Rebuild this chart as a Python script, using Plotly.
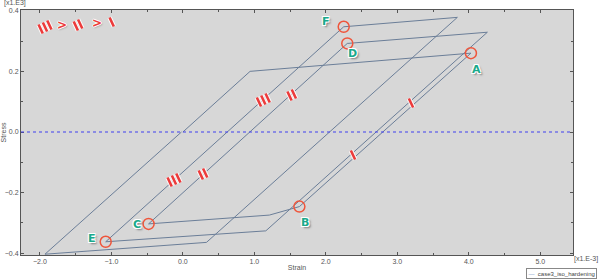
import math
import plotly.graph_objects as go

# ---- data (strain in 1e-3, stress in 1e3) ----
strain = [0.0, 0.94, 4.03, 1.63, 1.21, -0.48, 2.30, 4.26, 1.16, -1.08, 2.25, 3.84, 0.33, -1.93, -0.02]
stress = [0.0, 0.200, 0.260, -0.246, -0.274, -0.303, 0.292, 0.329, -0.326, -0.362, 0.347, 0.378, -0.364, -0.403, 0.0]
point_labels = ["A", "B", "C", "D", "E", "F"]
point_index = [2, 3, 5, 6, 9, 10]
label_offsets = [(6, 16), (6, 16), (-12, 1), (5, 10), (-14, -3), (-18, -5)]
series_name = "case3_iso_hardening"
x_ticks = [-2.0, -1.0, 0.0, 1.0, 2.0, 3.0, 4.0, 5.0]
y_ticks = [-0.4, -0.2, 0.0, 0.2, 0.4]

CURVE = "#6b7e98"
RED = "#ec3b3b"
TEAL = "#1aa98b"

fig = go.Figure()
fig.add_trace(go.Scatter(x=strain, y=stress, mode="lines",
                         line=dict(color=CURVE, width=1), name=series_name,
                         showlegend=False, hoverinfo="skip"))
fig.add_trace(go.Scatter(x=[strain[i] for i in point_index],
                         y=[stress[i] for i in point_index], mode="markers",
                         marker=dict(symbol="circle-open", size=11,
                                     line=dict(color=RED, width=1.5)),
                         showlegend=False, hoverinfo="skip"))

# blue dotted zero line
fig.add_shape(type="line", xref="paper", x0=0, x1=1, yref="y", y0=0, y1=0,
              line=dict(color="#4040f0", width=1.1, dash="dot"))

halo = ("-1px -1px 0 #fff, 1px -1px 0 #fff, -1px 1px 0 #fff, 1px 1px 0 #fff, "
        "2px 2px 2px #777")
for lab, i, (dx, dy) in zip(point_labels, point_index, label_offsets):
    fig.add_annotation(x=strain[i], y=stress[i], text=f"<b>{lab}</b>", showarrow=False,
                       xshift=dx, yshift=-dy,
                       font=dict(family="DejaVu Sans", size=11, color=TEAL, shadow=halo))

# decorative hash marks ("III > II > I")
L, T, W, H = 21, 10, 552, 245
def paper(px, py):
    return (px - L) / W, (T + H - py) / H

ang = math.radians(25)
sdir = (math.sin(ang), math.cos(ang))        # stroke direction (screen, y down)
pdir = (math.cos(ang), -math.sin(ang))       # spacing direction
def hash_marks(n, cx, cy, half=5.0, gap=4.8):
    for k in range(n):
        off = (k - (n - 1) / 2) * gap
        mx, my = cx + pdir[0] * off, cy + pdir[1] * off
        x0, y0 = paper(mx - sdir[0] * half, my - sdir[1] * half)
        x1, y1 = paper(mx + sdir[0] * half, my + sdir[1] * half)
        for col, w in (("rgba(255,255,255,0.9)", 4.5), (RED, 2.6)):
            fig.add_shape(type="line", xref="paper", yref="paper",
                          x0=x0, y0=y0, x1=x1, y1=y1, line=dict(color=col, width=w))

marks = [(3, 45, 27), (2, 78, 25), (1, 111.7, 22),
         (3, 263.3, 100), (3, 174, 180), (2, 291.7, 95), (2, 203, 174),
         (1, 411, 103), (1, 353, 155)]
for n, px, py in marks:
    hash_marks(n, px, py)

mshadow = "-1px 0 0 #fff, 1px 0 0 #fff, 0 1px 0 #fff, 0 -1px 0 #fff, 1px 1px 2px #888"
for px, py in [(61.7, 25), (96.7, 23)]:
    xp, yp = paper(px, py)
    fig.add_annotation(xref="paper", yref="paper", x=xp, y=yp, text="<b>></b>",
                       xanchor="center", yanchor="middle", showarrow=False,
                       font=dict(family="DejaVu Sans", size=12, color=RED, shadow=mshadow))

small = dict(family="Liberation Sans", size=7, color="#555")
for txt, px, py in [("[x1.E3]", 15, 3.5), ("[x1.E-3]", 586, 258.5)]:
    xp, yp = paper(px, py)
    fig.add_annotation(xref="paper", yref="paper", x=xp, y=yp, text=txt,
                       xanchor="center", yanchor="middle", showarrow=False, font=small)
# legend box
xp, yp = paper(597, 273)
fig.add_annotation(xref="paper", yref="paper", x=xp, y=yp,
                   xanchor="right", yanchor="middle", showarrow=False,
                   text=f"<span style='color:#7d9cc8'>—</span>  {series_name}",
                   font=dict(family="Liberation Sans", size=6, color="#444"),
                   bordercolor="#888", borderwidth=1, borderpad=1.5, bgcolor="white")

axis_common = dict(showgrid=False, zeroline=False, showline=True, linecolor="#555",
                   linewidth=1, mirror="allticks", ticks="inside", ticklen=3,
                   tickcolor="#555", tickfont=small)
fig.update_xaxes(range=[-2.265, 5.458], tickvals=x_ticks, tickformat=".1f",
                 minor=dict(dtick=0.5, ticks="inside", ticklen=2, tickcolor="#555"),
                 title=dict(text="Strain", font=small, standoff=0), **axis_common)
fig.update_yaxes(range=[-0.4056, 0.4023], tickvals=y_ticks, tickformat=".1f",
                 minor=dict(dtick=0.1, ticks="inside", ticklen=2, tickcolor="#555"),
                 title=dict(text="Stress", font=small, standoff=2), **axis_common)
fig.update_layout(width=600, height=280, margin=dict(l=21, r=27, t=10, b=25, autoexpand=False),
                  plot_bgcolor="#d7d7d7", paper_bgcolor="white", showlegend=False)
fig.write_html("out.html")
